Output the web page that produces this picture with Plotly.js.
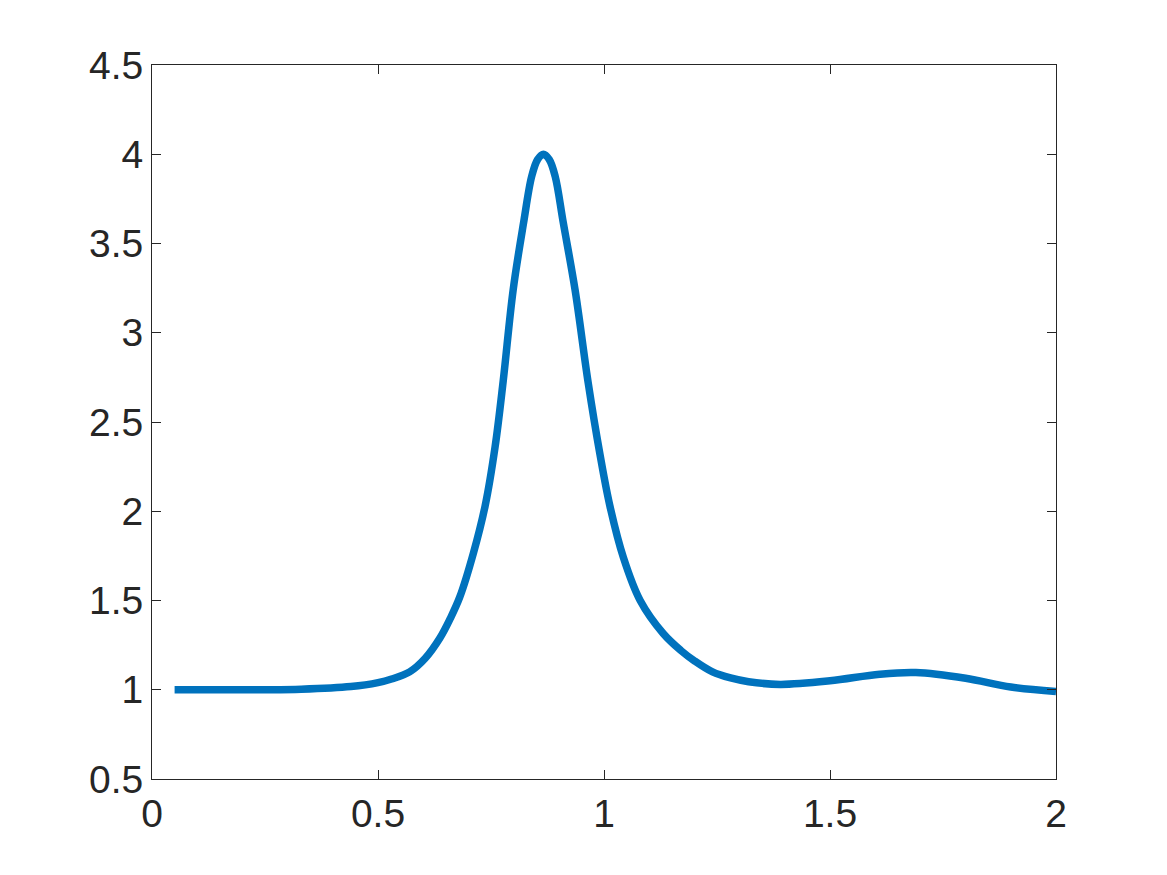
<!DOCTYPE html>
<html>
<head>
<meta charset="utf-8">
<script src="https://cdn.plot.ly/plotly-3.0.1.min.js"></script>
<style>
  html, body { margin: 0; padding: 0; background: #fff; }
  #grafico { width: 1167px; height: 875px; }
</style>
</head>
<body>
<div id="grafico"></div>
<script>
// valores
let xVals = [0.05, 0.15, 0.25, 0.33, 0.44, 0.50, 0.53, 0.57, 0.604, 0.637, 0.66, 0.681, 0.711, 0.737, 0.759, 0.777, 0.799, 0.822, 0.840, 0.853, 0.866, 0.879, 0.892, 0.910, 0.936, 0.965, 0.991, 1.013, 1.043, 1.080, 1.131, 1.17, 1.20, 1.24, 1.28, 1.32, 1.39, 1.50, 1.61, 1.69, 1.80, 1.90, 2.00]
let yVals = [1.00, 1.00, 1.00, 1.003, 1.018, 1.04, 1.06, 1.10, 1.175, 1.29, 1.40, 1.52, 1.765, 2.03, 2.36, 2.73, 3.24, 3.615, 3.876, 3.97, 4.0, 3.97, 3.876, 3.615, 3.24, 2.72, 2.32, 2.03, 1.74, 1.50, 1.315, 1.22, 1.162, 1.10, 1.066, 1.045, 1.03, 1.05, 1.087, 1.096, 1.064, 1.015, 0.99]

let xTicks = [0, 0.5, 1, 1.5, 2]
let yTicks = [0.5, 1, 1.5, 2, 2.5, 3, 3.5, 4, 4.5]

let corTexto = "#262626"

let curva = {
  x: xVals,
  y: yVals,
  mode: 'lines',
  type: 'scatter',
  line: { color: '#0072BD', width: 7.5, shape: 'spline', smoothing: 1 },
  hoverinfo: 'skip'
}

let eixo = {
  showline: true,
  linecolor: corTexto,
  linewidth: 1,
  mirror: 'ticks',
  ticks: 'inside',
  ticklen: 9,
  tickwidth: 1,
  tickcolor: corTexto,
  showgrid: false,
  zeroline: false,
  tickfont: { family: 'Liberation Sans, Arial, sans-serif', size: 39, color: corTexto }
}

let layout = {
  width: 1167,
  height: 875,
  margin: { l: 152, r: 111, t: 65, b: 96 },
  paper_bgcolor: '#ffffff',
  plot_bgcolor: '#ffffff',
  showlegend: false,
  xaxis: Object.assign({}, eixo, { range: [0, 2], tickvals: xTicks, ticktext: xTicks.map(String) }),
  yaxis: Object.assign({}, eixo, { range: [0.5, 4.5], tickvals: yTicks, ticktext: yTicks.map(String) })
}

Plotly.newPlot(document.getElementById("grafico"), [curva], layout, { displayModeBar: false, staticPlot: true })
</script>
</body>
</html>
